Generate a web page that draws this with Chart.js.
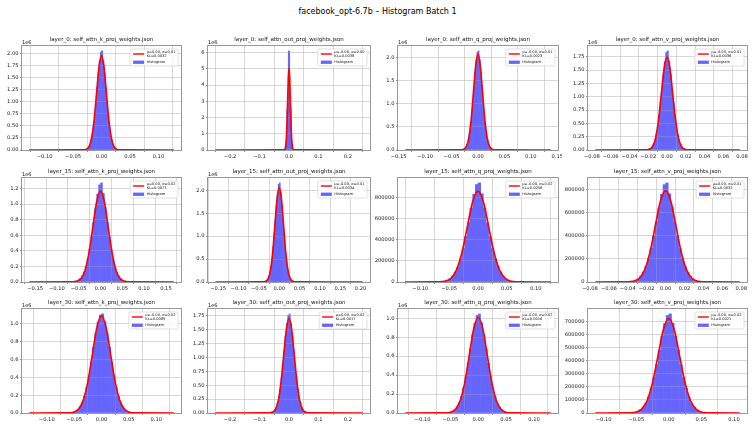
<!DOCTYPE html>
<html>
<head>
<meta charset="utf-8">
<title>facebook_opt-6.7b – Histogram Batch 1</title>
<script src="https://cdn.jsdelivr.net/npm/chart.js@4.4.1/dist/chart.umd.min.js"></script>
<style>
  body { margin: 0; background: #fff; }
  #fig { position: relative; width: 755px; height: 427px; overflow: hidden; font-family: 'DejaVu Sans', sans-serif; }
  #suptitle { position: absolute; left: 0; top: 7px; width: 755px; text-align: center; font-size: 8px; line-height: 10px; color: #000; }
  canvas { position: absolute; }
</style>
</head>
<body>
<div id="fig">
  <div id="suptitle">facebook_opt-6.7b – Histogram Batch 1</div>
</div>
<script>
// ---- data ----
const panelTitles = [
  'layer_0: self_attn_k_proj_weights.json',
  'layer_0: self_attn_out_proj_weights.json',
  'layer_0: self_attn_q_proj_weights.json',
  'layer_0: self_attn_v_proj_weights.json',
  'layer_15: self_attn_k_proj_weights.json',
  'layer_15: self_attn_out_proj_weights.json',
  'layer_15: self_attn_q_proj_weights.json',
  'layer_15: self_attn_v_proj_weights.json',
  'layer_30: self_attn_k_proj_weights.json',
  'layer_30: self_attn_out_proj_weights.json',
  'layer_30: self_attn_q_proj_weights.json',
  'layer_30: self_attn_v_proj_weights.json'
];

const fitLabels = [
  'μ=0.00, σ=0.01\nKL=0.0032',
  'μ=-0.00, σ=0.00\nKL=0.0038',
  'μ=-0.00, σ=0.01\nKL=0.0023',
  'μ=-0.00, σ=0.01\nKL=0.0036',
  'μ=0.00, σ=0.02\nKL=0.0077',
  'μ=-0.00, σ=0.01\nKL=0.0034',
  'μ=-0.00, σ=0.02\nKL=0.0058',
  'μ=0.00, σ=0.01\nKL=0.0032',
  'μ=-0.00, σ=0.02\nKL=0.0089',
  'μ=0.00, σ=0.02\nKL=0.0017',
  'μ=-0.00, σ=0.02\nKL=0.0016',
  'μ=-0.00, σ=0.02\nKL=0.0021'
];

// min / max weight per panel (the fitted curve is drawn over this range)
const weightRange = [
  [-0.127, 0.127], [-0.25, 0.25], [-0.1375, 0.1375], [-0.0765, 0.0775],
  [-0.1635, 0.168], [-0.157, 0.205], [-0.126, 0.126], [-0.0744, 0.0784],
  [-0.132, 0.132], [-0.25, 0.25], [-0.131, 0.130], [-0.113, 0.109]
];

// fitted normal: sigma, sampled every half sigma from -4σ to 4σ
const fitSigma = [0.0085, 0.0045, 0.0085, 0.006, 0.0175, 0.0105, 0.0185, 0.011, 0.0165, 0.018, 0.016, 0.0165];
const fitSteps = [-4, -3.5, -3, -2.5, -2, -1.5, -1, -0.5, 0, 0.5, 1, 1.5, 2, 2.5, 3, 3.5, 4];

// fitted curve heights (thousands), first/last value at the ends of weightRange
const fit1 = [0, 1, 4, 22, 86, 267, 640, 1195, 1739, 1970, 1739, 1195, 640, 267, 86, 22, 4, 1, 0];
const fit2 = [0, 2, 11, 56, 222, 683, 1640, 3063, 4457, 5050, 4457, 3063, 1640, 683, 222, 56, 11, 2, 0];
const fit3 = [0, 1, 5, 23, 91, 280, 672, 1255, 1827, 2070, 1827, 1255, 672, 280, 91, 23, 5, 1, 0];
const fit4 = [0, 1, 4, 19, 77, 237, 568, 1061, 1544, 1750, 1544, 1061, 568, 237, 77, 19, 4, 1, 0];
const fit5 = [0, 0.4, 3, 13, 51, 158, 379, 707, 1029, 1166, 1029, 707, 379, 158, 51, 13, 3, 0.4, 0];
const fit6 = [0, 1, 5, 23, 90, 279, 669, 1249, 1818, 2060, 1818, 1249, 669, 279, 90, 23, 5, 1, 0];
const fit7 = [0, 0.3, 2, 10, 38, 117, 280, 523, 762, 863, 762, 523, 280, 117, 38, 10, 2, 0.3, 0];
const fit8 = [0, 0.3, 2, 9, 35, 107, 258, 482, 701, 794, 701, 482, 258, 107, 35, 9, 2, 0.3, 0];
const fit9 = [0, 0.4, 2, 12, 48, 147, 354, 661, 962, 1090, 962, 661, 354, 147, 48, 12, 2, 0.4, 0];
const fit10 = [0, 1, 4, 19, 75, 230, 552, 1031, 1500, 1700, 1500, 1031, 552, 230, 75, 19, 4, 1, 0];
const fit11 = [0, 0.3, 2, 11, 44, 137, 328, 613, 891, 1010, 891, 613, 328, 137, 44, 11, 2, 0.3, 0];
const fit12 = [0, 0.2, 2, 8, 32, 98, 236, 440, 641, 726, 641, 440, 236, 98, 32, 8, 2, 0.2, 0];

// histogram bins: left edge of first bin and bin width
const binStart = [-0.0315, -0.0175, -0.0315, -0.0225, -0.066, -0.039, -0.069, -0.04125, -0.0615, -0.0675, -0.06, -0.0615];
const binWidth = [0.0021, 0.005, 0.0021, 0.0015, 0.0044, 0.0026, 0.0046, 0.00275, 0.0041, 0.0045, 0.004, 0.0041];

// histogram counts (thousands)
const hist1 = [4, 9, 19, 38, 70, 125, 212, 341, 518, 741, 1003, 1297, 1593, 1858, 2035, 2060, 1866, 1599, 1302, 1007, 737, 514, 337, 210, 123, 68, 36, 18, 8, 4];
const hist2 = [20, 400, 2500, 6100, 2550, 380, 20];
const hist3 = [4, 9, 20, 40, 73, 131, 222, 357, 544, 778, 1053, 1362, 1672, 1940, 2115, 2140, 1950, 1680, 1370, 1059, 774, 540, 354, 220, 129, 71, 38, 19, 9, 4];
const hist4 = [4, 8, 17, 34, 62, 111, 188, 302, 460, 655, 890, 1150, 1412, 1658, 1830, 1860, 1668, 1422, 1158, 895, 658, 461, 300, 186, 109, 60, 32, 16, 8, 3];
const hist5 = [3, 6, 13, 25, 44, 77, 127, 199, 298, 427, 585, 766, 952, 1128, 1245, 1270, 1136, 955, 762, 581, 424, 296, 197, 125, 75, 42, 24, 12, 6, 3];
const hist6 = [4, 9, 20, 39, 72, 130, 221, 355, 541, 774, 1050, 1358, 1665, 1942, 2130, 2160, 1952, 1672, 1363, 1053, 771, 538, 352, 219, 129, 71, 38, 19, 9, 4];
const hist7 = [2, 5, 10, 18, 32, 56, 93, 140, 221, 317, 432, 565, 699, 833, 925, 940, 838, 702, 560, 430, 318, 222, 150, 94, 56, 32, 18, 9, 4, 2];
const hist8 = [2, 4, 8, 16, 29, 51, 86, 135, 204, 292, 399, 521, 643, 762, 845, 860, 766, 646, 523, 401, 290, 203, 134, 85, 50, 28, 15, 8, 4, 2];
const hist9 = [2, 4, 9, 19, 36, 66, 114, 187, 290, 420, 574, 739, 894, 1019, 1098, 1110, 1022, 896, 741, 572, 418, 289, 186, 113, 65, 35, 18, 9, 4, 2];
const hist10 = [3, 7, 15, 31, 58, 105, 180, 291, 445, 639, 870, 1125, 1377, 1607, 1755, 1780, 1611, 1380, 1122, 868, 637, 444, 290, 179, 104, 57, 30, 15, 7, 3];
const hist11 = [2, 4, 9, 18, 34, 63, 107, 174, 267, 384, 525, 677, 823, 949, 1030, 1045, 953, 826, 679, 523, 382, 265, 172, 106, 62, 33, 17, 8, 4, 2];
const hist12 = [1.5, 3, 6.5, 13, 25, 45, 77, 124, 190, 273, 372, 481, 588, 686, 748, 760, 688, 590, 483, 371, 272, 189, 123, 76, 44, 24, 13, 6, 3, 1.5];

const fitCounts = [fit1, fit2, fit3, fit4, fit5, fit6, fit7, fit8, fit9, fit10, fit11, fit12];
const histCounts = [hist1, hist2, hist3, hist4, hist5, hist6, hist7, hist8, hist9, hist10, hist11, hist12];

// tick labels
const xTicks10 = ['−0.10', '−0.05', '0.00', '0.05', '0.10'];
const xTicks15 = ['−0.15', '−0.10', '−0.05', '0.00', '0.05', '0.10', '0.15'];
const xTicks20 = ['−0.15', '−0.10', '−0.05', '0.00', '0.05', '0.10', '0.15', '0.20'];
const xTicksOne = ['−0.2', '−0.1', '0.0', '0.1', '0.2'];
const xTicks08 = ['−0.08', '−0.06', '−0.04', '−0.02', '0.00', '0.02', '0.04', '0.06', '0.08'];
const yTicksQ200 = ['0.00', '0.25', '0.50', '0.75', '1.00', '1.25', '1.50', '1.75', '2.00'];
const yTicksQ175 = ['0.00', '0.25', '0.50', '0.75', '1.00', '1.25', '1.50', '1.75'];
const yTicksInt6 = ['0', '1', '2', '3', '4', '5', '6'];
const yTicksHalf = ['0.0', '0.5', '1.0', '1.5', '2.0'];
const yTicks12 = ['0.0', '0.2', '0.4', '0.6', '0.8', '1.0', '1.2'];
const yTicks10 = ['0.0', '0.2', '0.4', '0.6', '0.8', '1.0'];
const yTicks800k = ['0', '200000', '400000', '600000', '800000'];
const yTicks700k = ['0', '100000', '200000', '300000', '400000', '500000', '600000', '700000'];

const xTickLabels = [xTicks10, xTicksOne, xTicks15, xTicks08, xTicks15, xTicks20, xTicks10, xTicks08, xTicks10, xTicksOne, xTicks10, xTicks10];
const yTickLabels = [yTicksQ200, yTicksInt6, yTicksHalf, yTicksQ175, yTicks12, yTicksHalf, yTicks800k, yTicks800k, yTicks10, yTicksQ175, yTicks10, yTicks700k];
const yUnit = [1e6, 1e6, 1e6, 1e6, 1e6, 1e6, 1, 1, 1e6, 1e6, 1e6, 1];

// ---- layout (figure pixels) ----
const axisLeft = [22, 208, 398, 588];
const axisRight = [181, 370, 558, 747];
const axisTop = [46, 178, 309];
const axisBottom = [150, 282, 413];
const padL = 26, padT = 14, padR = 4, padB = 13;
const FONT = 'DejaVu Sans';

function toNum(label) {
  return parseFloat(label.replace('−', '-'));
}

const panelDecor = {
  id: 'panelDecor',
  afterDatasetDraw(chart, args) {
    // grid sits above the bars, below the fitted line (matplotlib order)
    if (args.meta.type !== 'bar') return;
    chart.scales.x.drawGrid(chart.chartArea);
    chart.scales.y.drawGrid(chart.chartArea);
  },
  afterDraw(chart, args, opts) {
    const ctx = chart.ctx;
    const a = chart.chartArea;
    ctx.save();

    // axes frame
    ctx.strokeStyle = '#999';
    ctx.lineWidth = 1;
    ctx.strokeRect(a.left - 0.5, a.top - 0.5, a.right - a.left + 1, a.bottom - a.top + 1);

    // subplot title and offset text
    ctx.fillStyle = '#111';
    ctx.font = '5.5px "' + FONT + '"';
    ctx.textBaseline = 'alphabetic';
    ctx.textAlign = 'center';
    ctx.fillText(opts.title, (a.left + a.right) / 2, a.top - 5);
    if (opts.offset) {
      ctx.font = '5px "' + FONT + '"';
      ctx.textAlign = 'left';
      ctx.fillText(opts.offset, a.left, a.top - 2.5);
    }

    // legend, upper right
    const fitDs = chart.data.datasets[0];
    const histDs = chart.data.datasets[1];
    const lines = fitDs.label.split('\n');
    ctx.font = '3.6px "' + FONT + '"';
    const textW = Math.max(...lines.map(t => ctx.measureText(t).width), ctx.measureText(histDs.label).width);
    const handle = 11, pad = 3, gap = 2.5;
    const boxW = pad + handle + gap + textW + 2.5;
    const boxH = 17;
    const bx = a.right - 3 - boxW;
    const by = a.top + 3;
    ctx.fillStyle = 'rgba(255,255,255,0.8)';
    ctx.strokeStyle = '#cccccc';
    ctx.lineWidth = 0.6;
    ctx.beginPath();
    if (ctx.roundRect) ctx.roundRect(bx, by, boxW, boxH, 1.2);
    else ctx.rect(bx, by, boxW, boxH);
    ctx.fill();
    ctx.stroke();

    const tx = bx + pad + handle + gap;
    ctx.fillStyle = '#111';
    ctx.textAlign = 'left';
    ctx.textBaseline = 'middle';
    ctx.fillText(lines[0], tx, by + 2.9);
    ctx.fillText(lines[1], tx, by + 6.7);
    ctx.strokeStyle = fitDs.borderColor;
    ctx.lineWidth = 1.4;
    ctx.beginPath();
    ctx.moveTo(bx + pad, by + 5);
    ctx.lineTo(bx + pad + handle, by + 5);
    ctx.stroke();
    ctx.fillStyle = histDs.backgroundColor;
    ctx.fillRect(bx + pad, by + 11.6, handle, 3.3);
    ctx.fillStyle = '#111';
    ctx.fillText(histDs.label, tx, by + 13.3);

    ctx.restore();
  }
};

const fig = document.getElementById('fig');

panelTitles.forEach((title, i) => {
  const row = Math.floor(i / 4);
  const col = i % 4;
  const w = axisRight[col] - axisLeft[col] + padL + padR;
  const h = axisBottom[row] - axisTop[row] + padT + padB;

  const canvas = document.createElement('canvas');
  canvas.width = w;
  canvas.height = h;
  canvas.style.width = w + 'px';
  canvas.style.height = h + 'px';
  canvas.style.left = (axisLeft[col] - padL) + 'px';
  canvas.style.top = (axisTop[row] - padT) + 'px';
  fig.appendChild(canvas);

  const sigma = fitSigma[i];
  const [lo, hi] = weightRange[i];
  const margin = (hi - lo) * 0.05;
  const fitX = [lo, ...fitSteps.map(z => z * sigma), hi];
  const fitPts = fitX.map((x, k) => ({ x: x, y: fitCounts[i][k] * 1000 }));
  const histPts = histCounts[i].map((c, k) => ({ x: binStart[i] + (k + 0.5) * binWidth[i], y: c * 1000 }));
  const ymax = Math.max(...histPts.map(p => p.y), ...fitPts.map(p => p.y)) * 1.05;

  const xLabels = xTickLabels[i];
  const yLabels = yTickLabels[i];
  const xVals = xLabels.map(toNum);
  const yVals = yLabels.map(t => toNum(t) * yUnit[i]);

  const gridOpts = {
    color: 'rgba(176,176,176,0.3)',
    lineWidth: 1,
    drawTicks: true,
    tickLength: 2,
    tickColor: '#8a8a8a',
    tickWidth: 1
  };
  const tickFont = { family: FONT, size: 5.2 };

  new Chart(canvas, {
    type: 'line',
    data: {
      datasets: [
        {
          type: 'line',
          label: fitLabels[i],
          data: fitPts,
          borderColor: '#ff0000',
          borderWidth: 1.7,
          pointRadius: 0,
          fill: false,
          cubicInterpolationMode: 'monotone',
          order: 0
        },
        {
          type: 'bar',
          label: 'Histogram',
          data: histPts,
          backgroundColor: '#6666ff',
          borderWidth: 0,
          barPercentage: 1,
          categoryPercentage: 1,
          order: 1
        }
      ]
    },
    options: {
      responsive: false,
      animation: false,
      events: [],
      layout: { padding: { left: 0, top: padT, right: padR, bottom: 0 }, autoPadding: false },
      scales: {
        x: {
          type: 'linear',
          min: lo - margin,
          max: hi + margin,
          offset: false,
          grid: gridOpts,
          border: { display: false },
          ticks: {
            autoSkip: false,
            maxRotation: 0,
            minRotation: 0,
            padding: 2,
            color: '#222',
            font: tickFont,
            callback: (v, idx) => xLabels[idx]
          },
          afterBuildTicks: s => { s.ticks = xVals.map(v => ({ value: v })); },
          afterFit: s => { s.height = padB; s.paddingLeft = 0; s.paddingRight = 0; }
        },
        y: {
          type: 'linear',
          min: 0,
          max: ymax,
          grid: gridOpts,
          border: { display: false },
          ticks: {
            autoSkip: false,
            padding: 1.5,
            color: '#222',
            font: tickFont,
            callback: (v, idx) => yLabels[idx]
          },
          afterBuildTicks: s => { s.ticks = yVals.map(v => ({ value: v })); },
          afterFit: s => { s.width = padL; s.paddingTop = 0; s.paddingBottom = 0; }
        }
      },
      plugins: {
        legend: { display: false },
        tooltip: { enabled: false },
        panelDecor: { title: title, offset: yUnit[i] === 1e6 ? '1e6' : '' }
      }
    },
    plugins: [panelDecor]
  });
});
</script>
</body>
</html>
